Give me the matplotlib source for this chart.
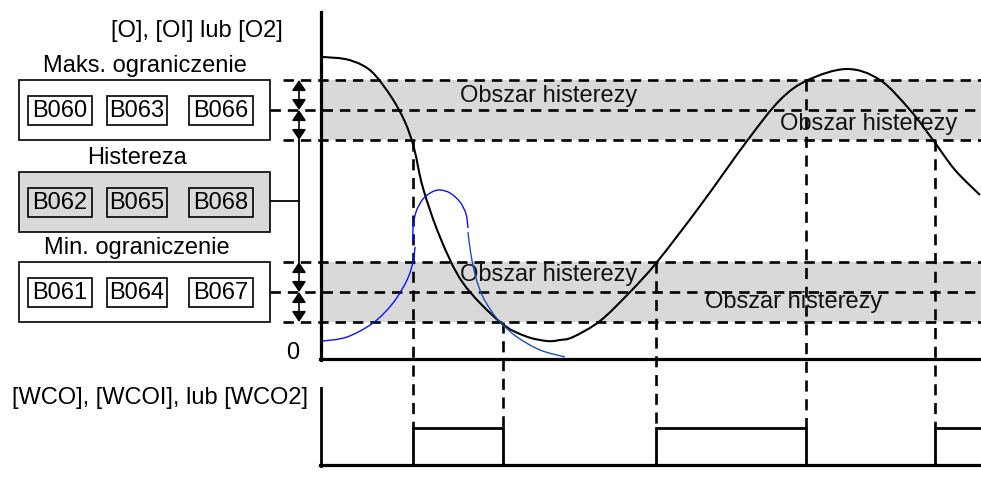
import matplotlib
matplotlib.use("Agg")
import matplotlib.pyplot as plt
from matplotlib.patches import Rectangle, FancyArrowPatch, PathPatch
from matplotlib.path import Path

plt.rcParams["font.family"] = ["Liberation Sans", "DejaVu Sans"]
plt.rcParams["lines.scale_dashes"] = False

# ---- data (diagram coordinates, y grows downwards) ----
upper_levels = [80, 110, 140]     # max limit: upper edge, setpoint, lower edge
lower_levels = [262, 292, 322]    # min limit: upper edge, setpoint, lower edge
switch_x = [413, 503, 656, 806, 935]
pulse_on = [(413, 503), (656, 806), (935, 981)]

signal_x = [323, 345, 362, 375, 392, 405, 414, 423, 440, 463, 500, 525,
            547, 560, 573, 600, 630, 657, 700, 747, 780, 808, 847, 880,
            910, 933, 955, 980]
signal_y = [57, 59, 65, 75, 98, 122, 148, 188, 237, 283, 322, 336,
            341, 340, 337, 321, 292, 262, 206, 141, 100, 80, 69, 80,
            110, 140, 170, 195]

blue_up_x = [323, 347, 373, 393, 407, 413, 415]
blue_up_y = [341, 337, 323, 303, 280, 262, 247]
blue_top_x = [413, 413, 416, 423, 432, 440, 450, 460, 466, 468]
blue_top_y = [242, 228, 212, 199, 192, 190, 193, 202, 214, 228]
blue_down_x = [468, 471, 476, 482, 490, 500, 517, 540, 565]
blue_down_y = [232, 255, 278, 295, 309, 322, 337, 350, 357]

box_rows = [
    ("Maks. ograniczenie", ["B060", "B063", "B066"], 80, False),
    ("Histereza", ["B062", "B065", "B068"], 172, True),
    ("Min. ograniczenie", ["B061", "B064", "B067"], 262, False),
]
inner_x = [(28, 92), (107, 167), (189, 253)]
band_labels = [(460, 96), (780, 124), (460, 275), (705, 302)]

GREY = "#d9d9d9"
FS = 17


def smooth_path(xs, ys):
    """Catmull-Rom through the read points, drawn as cubic Bezier segments."""
    pts = list(zip(xs, ys))
    verts = [pts[0]]
    codes = [Path.MOVETO]
    n = len(pts)
    for i in range(n - 1):
        p0 = pts[max(i - 1, 0)]
        p1 = pts[i]
        p2 = pts[i + 1]
        p3 = pts[min(i + 2, n - 1)]
        c1 = (p1[0] + (p2[0] - p0[0]) / 6, p1[1] + (p2[1] - p0[1]) / 6)
        c2 = (p2[0] - (p3[0] - p1[0]) / 6, p2[1] - (p3[1] - p1[1]) / 6)
        verts += [c1, c2, p2]
        codes += [Path.CURVE4] * 3
    return Path(verts, codes)


fig = plt.figure(figsize=(9.81, 4.88), dpi=100)
ax = fig.add_axes([0, 0, 1, 1])
ax.set_xlim(0, 981)
ax.set_ylim(488, 0)
ax.axis("off")

# hysteresis bands
for lv in (upper_levels, lower_levels):
    ax.add_patch(Rectangle((323, lv[0]), 981 - 323, lv[2] - lv[0],
                           facecolor=GREY, edgecolor="none", zorder=1))
    for i, y in enumerate(lv):
        x0 = 270 if i == 1 else 283
        ax.plot([x0, 981], [y, y], color="black", lw=1.9,
                dashes=(7.5, 5), zorder=2)

for tx, ty in band_labels:
    ax.text(tx, ty, "Obszar histerezy", fontsize=FS, ha="left",
            va="center", color="#111111", zorder=3)

# vertical switching lines
starts = [upper_levels[2], lower_levels[2], lower_levels[0],
          upper_levels[0], upper_levels[2]]
for x, y0 in zip(switch_x, starts):
    ax.plot([x, x], [y0, 428], color="black", lw=1.9, dashes=(8, 5.5),
            zorder=2)

# axes of the top chart
ax.plot([321, 321], [12, 360], color="black", lw=2.3, zorder=5)
ax.plot([320, 981], [359, 359], color="black", lw=2.3, zorder=5)
ax.text(293, 353, "0", fontsize=FS, ha="center", va="center")
ax.text(197, 31, "[O], [OI] lub [O2]", fontsize=FS, ha="center", va="center")

# curves
ax.add_patch(PathPatch(smooth_path(signal_x, signal_y), facecolor="none",
                       edgecolor="black", lw=1.5, zorder=4))
for xs, ys, col in ((blue_up_x, blue_up_y, "#1010ff"),
                    (blue_top_x, blue_top_y, "#1010ff"),
                    (blue_down_x, blue_down_y, "#1f4fb0")):
    ax.add_patch(PathPatch(smooth_path(xs, ys), facecolor="none",
                           edgecolor=col, lw=1.0, zorder=4))

# parameter boxes
for title, names, top, shaded in box_rows:
    ax.add_patch(Rectangle((19, top), 251, 60, facecolor=GREY if shaded else "white",
                           edgecolor="black", lw=1.2, zorder=3))
    ax.text(145 if top == 80 else 137, top - 14, title, fontsize=FS,
            ha="center", va="center")
    for (x0, x1), name in zip(inner_x, names):
        ax.add_patch(Rectangle((x0, top + 16), x1 - x0, 29,
                               facecolor=GREY if shaded else "white",
                               edgecolor="black", lw=1.2, zorder=4))
        ax.text((x0 + x1) / 2, top + 31, name, fontsize=FS,
                ha="center", va="center", zorder=5)

# hysteresis arrows and connector
ax.plot([270, 299], [201, 201], color="black", lw=1.3)
ax.plot([299, 299], [upper_levels[2], lower_levels[0]], color="black", lw=1.3)
for lv in (upper_levels, lower_levels):
    for a, b in ((lv[0], lv[1]), (lv[1], lv[2])):
        ax.add_patch(FancyArrowPatch((299, a), (299, b),
                                     arrowstyle="<|-|>,head_length=0.45,head_width=0.3",
                                     mutation_scale=14, color="black", lw=1.2,
                                     shrinkA=0, shrinkB=0, zorder=4))

# output signal
ax.text(160, 398, "[WCO], [WCOI], lub [WCO2]", fontsize=FS, ha="center",
        va="center")
ax.plot([321, 321], [388, 466], color="black", lw=2.0)
ax.plot([320, 981], [465, 465], color="black", lw=2.3)
px, py = [321], [465]
for a, b in pulse_on:
    px += [a, a, b, b]
    py += [465, 428, 428, 465]
ax.plot(px[:-1], py[:-1], color="black", lw=2.0, solid_joinstyle="miter")

fig.savefig("out.png", dpi=100, facecolor="white")
